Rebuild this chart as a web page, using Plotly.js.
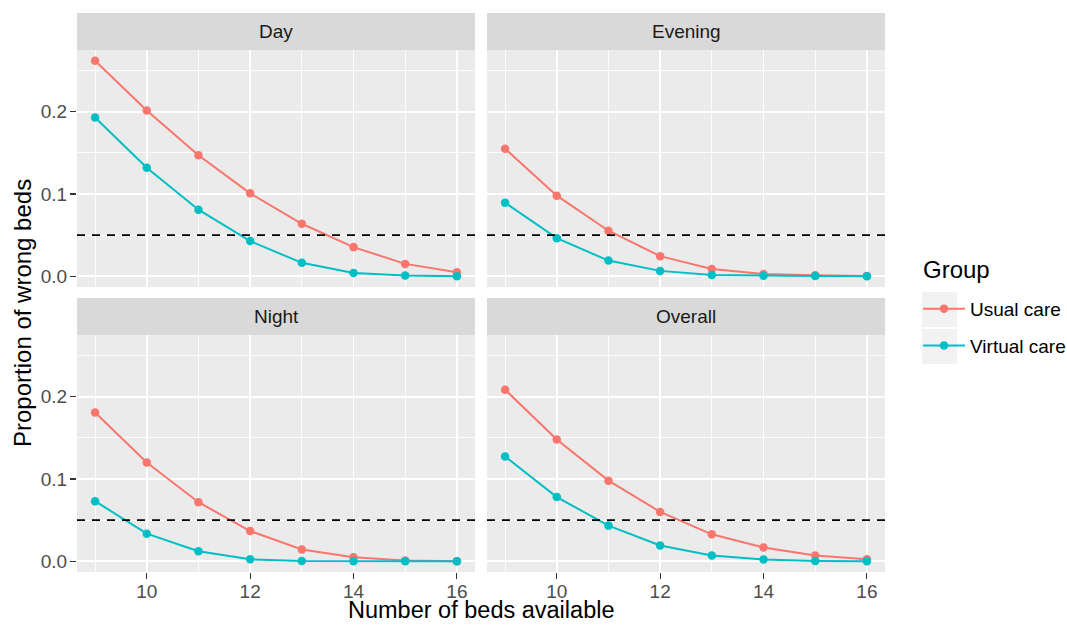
<!DOCTYPE html>
<html>
<head>
<meta charset="utf-8">
<script src="https://cdn.plot.ly/plotly-3.0.1.min.js"></script>
<style>html,body{margin:0;padding:0;background:#fff;}#chart{width:1067px;height:625px;}</style>
</head>
<body>
<div id="chart"></div>
<script>
// ---- data ----
const beds = [9, 10, 11, 12, 13, 14, 15, 16];
const panels = ["Day", "Evening", "Night", "Overall"];
const groups = ["Usual care", "Virtual care"];
const dayUsual      = [0.262, 0.2016, 0.147, 0.1008, 0.0638, 0.0354, 0.015, 0.0049];
const dayVirtual    = [0.193, 0.132, 0.0809, 0.0427, 0.0163, 0.004, 0.0008, 0.0];
const eveningUsual  = [0.155, 0.098, 0.0553, 0.0244, 0.0089, 0.0028, 0.0012, 0.0002];
const eveningVirtual= [0.0894, 0.0463, 0.019, 0.0065, 0.0016, 0.0005, 0.0002, 0.0];
const nightUsual    = [0.1808, 0.12, 0.0718, 0.0367, 0.0143, 0.0049, 0.0008, 0.0001];
const nightVirtual  = [0.073, 0.0335, 0.0122, 0.0024, 0.0003, 0.0001, 0.0, 0.0];
const overallUsual  = [0.2086, 0.148, 0.098, 0.06, 0.0327, 0.0167, 0.0069, 0.0024];
const overallVirtual= [0.1273, 0.078, 0.0433, 0.0192, 0.0069, 0.002, 0.0004, 0.0];
const threshold = 0.05;
const xTicks = [10, 12, 14, 16];
const yTicks = [0.0, 0.1, 0.2];
const legendTitle = "Group";
const xTitle = "Number of beds available";
const yTitle = "Proportion of wrong beds";

// ---- styling ----
const colors = ["#F8766D", "#00BFC4"];
const FONT = "Liberation Sans, Arial, sans-serif";
const W = 1067, H = 625;
const px = v => v / W;
const py = v => 1 - v / H;

const series = [
  [dayUsual, dayVirtual],
  [eveningUsual, eveningVirtual],
  [nightUsual, nightVirtual],
  [overallUsual, overallVirtual]
];

// panel geometry (pixels)
const cols = [[77, 475], [487, 885]];
const rows = [[50, 287], [335, 572]];
const strips = [[13, 50], [298, 335]];

// scales
const allY = series.flat(2).concat([threshold]);
const yMin = Math.min(...allY), yMax = Math.max(...allY);
const yPad = 0.05 * (yMax - yMin);
const xMin = Math.min(...beds), xMax = Math.max(...beds);
const xPad = 0.05 * (xMax - xMin);

const traces = [];
const layout = {
  width: W, height: H,
  margin: {l: 0, r: 0, t: 0, b: 0, autoexpand: false},
  paper_bgcolor: "#FFFFFF",
  plot_bgcolor: "#EBEBEB",
  font: {family: FONT, color: "#000000"},
  showlegend: true,
  legend: {
    x: px(918), y: py(290), xanchor: "left", yanchor: "top",
    font: {size: 19, color: "#000000"},
    bgcolor: "rgba(0,0,0,0)",
    itemwidth: 42,
    tracegroupgap: 9
  },
  shapes: [],
  annotations: []
};

panels.forEach((name, i) => {
  const r = Math.floor(i / 2), c = i % 2;
  const sfx = i === 0 ? "" : String(i + 1);
  const xa = "x" + sfx, ya = "y" + sfx;
  const bottom = r === 1, left = c === 0;

  layout["xaxis" + sfx] = {
    domain: [px(cols[c][0]), px(cols[c][1])],
    anchor: ya,
    range: [xMin - xPad, xMax + xPad],
    tickmode: "array", tickvals: xTicks, ticktext: xTicks.map(String),
    showticklabels: bottom,
    ticks: bottom ? "outside" : "", ticklen: 6, tickwidth: 1.1, tickcolor: "#333333",
    ticklabelstandoff: -4,
    tickfont: {size: 19, color: "#4D4D4D", family: FONT},
    showgrid: true, gridcolor: "#FFFFFF", gridwidth: 1.7,
    minor: {tickmode: "array", tickvals: [9, 11, 13, 15], showgrid: true, gridcolor: "#FFFFFF", gridwidth: 0.9, ticks: ""},
    zeroline: false, showline: false, fixedrange: true, automargin: false
  };
  layout["yaxis" + sfx] = {
    domain: [py(rows[r][1]), py(rows[r][0])],
    anchor: xa,
    range: [yMin - yPad, yMax + yPad],
    tickmode: "array", tickvals: yTicks, ticktext: yTicks.map(v => v.toFixed(1)),
    showticklabels: left,
    ticks: left ? "outside" : "", ticklen: 6, tickwidth: 1.1, tickcolor: "#333333",
    ticklabelstandoff: -1,
    tickfont: {size: 19, color: "#4D4D4D", family: FONT},
    showgrid: true, gridcolor: "#FFFFFF", gridwidth: 1.7,
    minor: {tickmode: "array", tickvals: [0.05, 0.15, 0.25], showgrid: true, gridcolor: "#FFFFFF", gridwidth: 0.9, ticks: ""},
    zeroline: false, showline: false, fixedrange: true, automargin: false
  };

  // strip background + label
  layout.shapes.push({
    type: "rect", xref: "paper", yref: "paper",
    x0: px(cols[c][0]), x1: px(cols[c][1]),
    y0: py(strips[r][1]), y1: py(strips[r][0]),
    fillcolor: "#D9D9D9", line: {width: 0}, layer: "below"
  });
  layout.annotations.push({
    xref: "paper", yref: "paper",
    x: px((cols[c][0] + cols[c][1]) / 2), y: py((strips[r][0] + strips[r][1]) / 2),
    xanchor: "center", yanchor: "middle", showarrow: false,
    text: name, font: {size: 19, color: "#1A1A1A", family: FONT}
  });

  // threshold dashed line
  layout.shapes.push({
    type: "line", xref: xa + " domain", yref: ya,
    x0: 0, x1: 1, y0: threshold, y1: threshold,
    line: {color: "#000000", width: 1.8, dash: "8px,7px"}, layer: "above"
  });

  groups.forEach((g, k) => {
    traces.push({
      type: "scatter", mode: "lines+markers",
      x: beds, y: series[i][k], xaxis: xa, yaxis: ya,
      name: g, legendgroup: g, showlegend: i === 0,
      line: {color: colors[k], width: 2},
      marker: {color: colors[k], size: 8.5},
      hoverinfo: "x+y+name"
    });
  });
});

// legend key backgrounds
[[292, 327], [329, 364]].forEach(([a, b]) => {
  layout.shapes.push({
    type: "rect", xref: "paper", yref: "paper",
    x0: px(922), x1: px(957), y0: py(b), y1: py(a),
    fillcolor: "#F2F2F2", line: {width: 0}, layer: "below"
  });
});

// legend title
layout.annotations.push({
  xref: "paper", yref: "paper", x: px(921), y: py(270),
  xanchor: "left", yanchor: "middle", showarrow: false,
  text: legendTitle, font: {size: 24, color: "#000000", family: FONT}
});

// axis titles
layout.annotations.push({
  xref: "paper", yref: "paper", x: px((cols[0][0] + cols[1][1]) / 2), y: 0,
  xanchor: "center", yanchor: "bottom", showarrow: false,
  text: xTitle, font: {size: 23.5, color: "#000000", family: FONT}
});
layout.annotations.push({
  xref: "paper", yref: "paper", x: px(22), y: py(313),
  xanchor: "center", yanchor: "middle", showarrow: false, textangle: -90,
  text: yTitle, font: {size: 24, color: "#000000", family: FONT}
});

Plotly.newPlot("chart", traces, layout, {displayModeBar: false, staticPlot: true});
</script>
</body>
</html>
